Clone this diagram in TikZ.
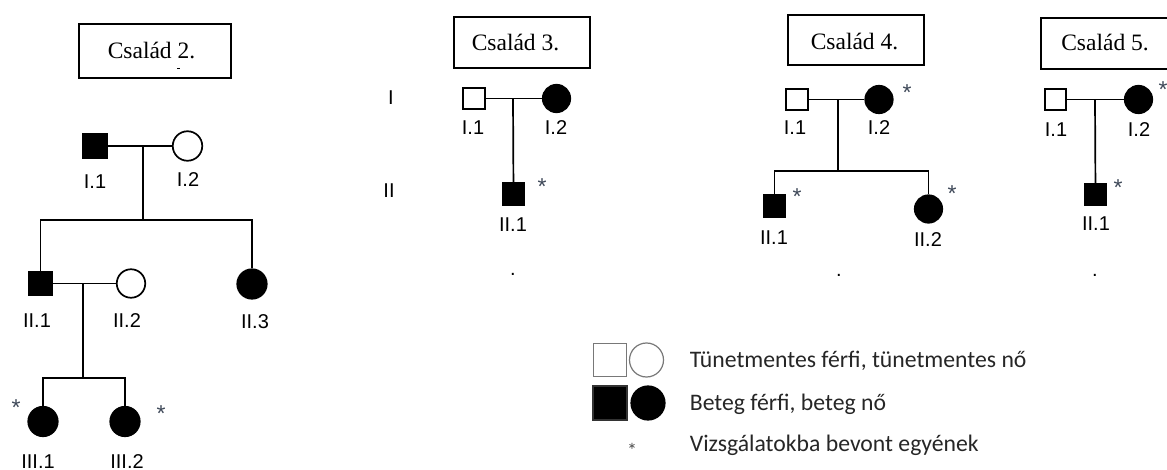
\documentclass[tikz,border=0pt]{standalone}
\usepackage{fontspec}
\setmainfont{Liberation Serif}
\newfontfamily\labfont{Liberation Sans}
\newfontfamily\legfont{Carlito}
\definecolor{astgrey}{RGB}{62,72,88}
\definecolor{legline}{RGB}{120,120,120}
\begin{document}
\begin{tikzpicture}[x=1pt,y=-1pt,line width=1.7pt,
  male/.style={rectangle,draw,fill=white,minimum size=21.5pt,inner sep=0pt},
  female/.style={circle,draw,fill=white,minimum size=27.5pt,inner sep=0pt},
  aff/.style={fill=black},
  famframe/.style={rectangle,draw,line width=2.2pt,inner sep=0pt},
  famtitle/.style={font=\fontsize{23.5}{28}\selectfont,inner sep=0pt,anchor=base},
  lab/.style={font=\labfont\fontsize{20}{24}\selectfont,inner sep=0pt,anchor=base},
  ast/.style={font=\labfont\fontsize{23}{28}\selectfont,text=astgrey,inner sep=0pt,anchor=base},
  legtext/.style={font=\legfont\fontsize{23.7}{28}\selectfont,text=black!85,inner sep=0pt,anchor=base west},
  legsym/.style={line width=1.2pt,inner sep=0pt,minimum size=33pt}
]
\useasboundingbox (0,0) rectangle (1167,470);
\clip (0,0) rectangle (1167,470);

% ---------- Family 2 ----------
\node[famframe,minimum width=152pt,minimum height=54pt] (f2box) at (155,51) {};
\node[famtitle] (f2title) at (151.5,59) {Család 2.};
\draw[line width=1pt] (177,68.5) -- (180,68.5);

\node[male,aff,minimum size=24.5pt] (f2a) at (95,146) {};
\node[female,minimum size=29.5pt] (f2b) at (187.5,146) {};
\coordinate (f2m) at (143,146);
\coordinate (f2sib) at (143,220);
\draw (f2a) -- (f2b);
\draw (f2m) -- (f2sib);
\node[male,aff,minimum size=23.5pt] (f2c) at (40.5,283.5) {};
\node[female,minimum size=28.5pt] (f2d) at (131,283.5) {};
\node[female,aff,minimum size=29.5pt] (f2e) at (252,284) {};
\draw (f2c) |- (f2sib) -| (f2e);
\draw (f2c) -- (f2d);
\coordinate (f2m2) at (83,283.5);
\coordinate (f2sib2) at (83,378);
\draw (f2m2) -- (f2sib2);
\node[female,aff,minimum size=29.5pt] (f2f) at (43,421.5) {};
\node[female,aff,minimum size=29.5pt] (f2g) at (125,421.5) {};
\draw (f2f) |- (f2sib2) -| (f2g);

\node[lab] (f2la) at (95,189) {I.1};
\node[lab] (f2lb) at (188,187) {I.2};
\node[lab] (f2lc) at (37,327) {II.1};
\node[lab] (f2ld) at (127,327) {II.2};
\node[lab] (f2le) at (255,328) {II.3};
\node[lab] (f2lf) at (38,468) {III.1};
\node[lab] (f2lg) at (127,468) {III.2};
\node[ast] (f2sf) at (16,415) {*};
\node[ast] (f2sg) at (161,421) {*};

% ---------- Family 3 ----------
\node[famframe,minimum width=136pt,minimum height=51pt] (f3box) at (522,42.5) {};
\node[famtitle] (f3title) at (515.5,50.5) {Család 3.};
\node[lab] (genI) at (391,105) {I};
\node[lab] (genII) at (389,198) {II};

\node[male] (f3a) at (474,98.5) {};
\node[female,aff] (f3b) at (556.5,98.5) {};
\coordinate (f3m) at (513,98.5);
\node[male,aff] (f3c) at (513.5,194) {};
\draw (f3a) -- (f3b);
\draw (f3m) -- (f3c);
\node[lab] (f3la) at (473,135) {I.1};
\node[lab] (f3lb) at (556,135) {I.2};
\node[lab] (f3lc) at (513,232) {II.1};
\node[ast] (f3sc) at (542,195) {*};
\node[lab] (f3dot) at (513,276) {.};

% ---------- Family 4 ----------
\node[famframe,minimum width=136pt,minimum height=50pt] (f4box) at (856,40) {};
\node[famtitle] (f4title) at (854.5,50) {Család 4.};

\node[male] (f4a) at (797,99.5) {};
\node[female,aff] (f4b) at (879,99.5) {};
\coordinate (f4m) at (838,99.5);
\coordinate (f4sib) at (838,171);
\draw (f4a) -- (f4b);
\draw (f4m) -- (f4sib);
\node[male,aff] (f4c) at (774.5,206) {};
\node[female,aff] (f4d) at (928.5,209) {};
\draw (f4c) |- (f4sib) -| (f4d);
\node[lab] (f4la) at (795,135) {I.1};
\node[lab] (f4lb) at (879,135) {I.2};
\node[lab] (f4lc) at (774,245) {II.1};
\node[lab] (f4ld) at (928,247) {II.2};
\node[ast] (f4sb) at (907,101) {*};
\node[ast] (f4sc) at (797,205) {*};
\node[ast] (f4sd) at (952,202) {*};
\node[lab] (f4dot) at (839,277) {.};

% ---------- Family 5 ----------
\node[famframe,minimum width=136pt,minimum height=51pt] (f5box) at (1109,43.5) {};
\node[famtitle] (f5title) at (1105,50.5) {Család 5.};

\node[male] (f5a) at (1055.5,99.5) {};
\node[female,aff] (f5b) at (1138.5,99.5) {};
\coordinate (f5m) at (1095,99.5);
\node[male,aff] (f5c) at (1095.5,194.5) {};
\draw (f5a) -- (f5b);
\draw (f5m) -- (f5c);
\node[lab] (f5la) at (1056,137) {I.1};
\node[lab] (f5lb) at (1139,137) {I.2};
\node[lab] (f5lc) at (1096,231) {II.1};
\node[ast] (f5sb) at (1163,98) {*};
\node[ast] (f5sc) at (1118,196) {*};
\node[lab] (f5dot) at (1095,277) {.};

% ---------- Legend ----------
\node[legsym,rectangle,draw=legline] (lgm) at (610,360) {};
\node[legsym,circle,draw=legline,minimum size=34pt] (lgf) at (646.5,360) {};
\node[legsym,rectangle,draw=black!80,fill=black,minimum size=34pt] (lgma) at (610,403) {};
\node[legsym,circle,draw=black,fill=black,minimum size=34pt] (lgfa) at (648,403) {};
\node[ast,text=black!70,font=\legfont\fontsize{20}{24}\selectfont] (lgast) at (632,457) {*};
\node[legtext] (lgt1) at (689,367.5) {Tünetmentes férfi, tünetmentes nő};
\node[legtext] (lgt2) at (689,410) {Beteg férfi, beteg nő};
\node[legtext] (lgt3) at (689,451) {Vizsgálatokba bevont egyének};
\end{tikzpicture}
\end{document}
